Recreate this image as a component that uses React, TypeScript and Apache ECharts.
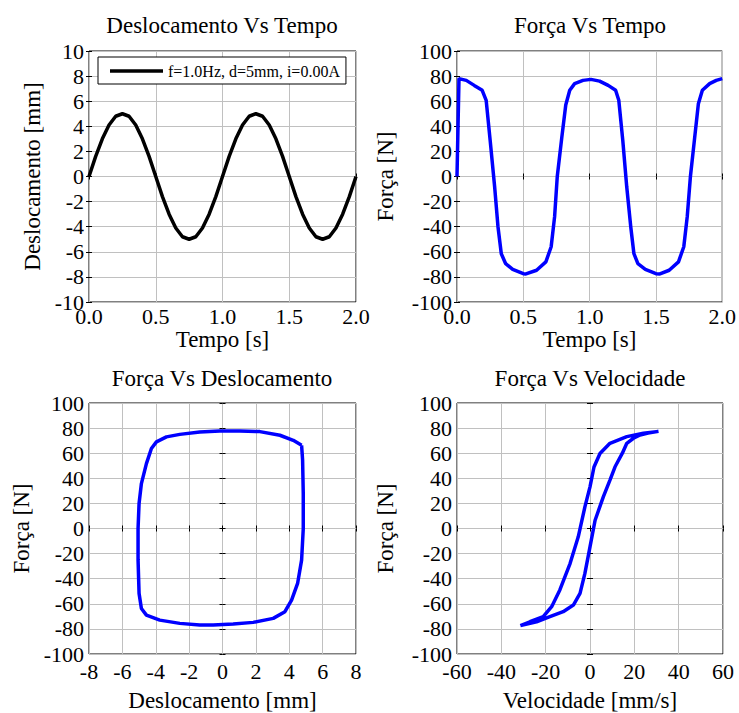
import React, { useEffect, useRef } from "react";
import * as echarts from "echarts";

const FONT = "Liberation Serif";

// ---- tick definitions ----
const timeTicks = [0, 0.5, 1.0, 1.5, 2.0];
const dispTicks = [-10, -8, -6, -4, -2, 0, 2, 4, 6, 8, 10];
const forceTicks = [-100, -80, -60, -40, -20, 0, 20, 40, 60, 80, 100];
const dispLoopTicks = [-8, -6, -4, -2, 0, 2, 4, 6, 8];
const velTicks = [-60, -40, -20, 0, 20, 40, 60];

// ---- titles / labels ----
const titles = [
  "Deslocamento Vs Tempo",
  "Força Vs Tempo",
  "Força Vs Deslocamento",
  "Força Vs Velocidade",
];
const legendLabel = "f=1.0Hz, d=5mm, i=0.00A";

// ---- plot 1: displacement vs time ----
const time1 = [
  0, 0.05, 0.1, 0.15, 0.2, 0.25, 0.3, 0.35, 0.4, 0.45, 0.5, 0.55, 0.6, 0.65,
  0.7, 0.75, 0.8, 0.85, 0.9, 0.95, 1.0, 1.05, 1.1, 1.15, 1.2, 1.25, 1.3, 1.35,
  1.4, 1.45, 1.5, 1.55, 1.6, 1.65, 1.7, 1.75, 1.8, 1.85, 1.9, 1.95, 2.0,
];
const disp1 = [
  0, 1.6, 3.0, 4.1, 4.8, 5.0, 4.8, 4.1, 3.0, 1.6, 0, -1.6, -3.0, -4.1, -4.8,
  -5.0, -4.8, -4.1, -3.0, -1.6, 0, 1.6, 3.0, 4.1, 4.8, 5.0, 4.8, 4.1, 3.0, 1.6,
  0, -1.6, -3.0, -4.1, -4.8, -5.0, -4.8, -4.1, -3.0, -1.6, 0,
];

// ---- plot 2: force vs time ----
const time2 = [
  0, 0.015, 0.07, 0.13, 0.19, 0.22, 0.25, 0.284, 0.309, 0.334, 0.367, 0.42,
  0.5, 0.52, 0.6, 0.67, 0.71, 0.736, 0.756, 0.79, 0.82, 0.85, 0.887, 0.95,
  1.01, 1.075, 1.14, 1.196, 1.22, 1.25, 1.28, 1.31, 1.334, 1.364, 1.42, 1.5,
  1.53, 1.6, 1.67, 1.71, 1.736, 1.76, 1.79, 1.82, 1.85, 1.905, 1.955, 2.0,
];
const force2 = [
  0, 78, 76.6, 72.6, 68.7, 60.7, 28.8, -8.4, -40, -61.5, -69.5, -74, -77.4,
  -77.6, -74.7, -68, -56, -32, 0, 31, 57, 68.7, 74, 76.6, 77.4, 76, 72.6, 68.7,
  60.7, 28.8, -8.4, -40, -61.5, -69.5, -74, -77.4, -77.6, -74.7, -68, -56, -32,
  0, 29, 58, 68.7, 74, 76.6, 78,
];

// ---- plot 3: force vs displacement loop ----
const loopDisp = [
  4.74, 4.24, 3.44, 2.24, 1.04, -0.16, -1.36, -2.56, -3.36, -3.96, -4.26,
  -4.56, -4.86, -5.0, -5.06, -5.06, -5.0, -4.86, -4.56, -3.76, -2.56, -1.36,
  -0.56, 0.64, 1.84, 3.04, 3.74, 4.14, 4.5, 4.74, 4.84, 4.84, 4.8, 4.74,
];
const loopForceD = [
  66.3, 70.3, 74.3, 77.2, 77.7, 77.7, 76.9, 75, 73, 69, 63.7, 51.7, 35.8, 19.9,
  0, -25, -51.7, -63.7, -69, -73, -75.6, -76.9, -76.9, -76.1, -74.8, -71.6,
  -66.3, -57, -43.8, -25.2, 0, 27.9, 54.4, 66.3,
];

// ---- plot 4: force vs velocity loop ----
const loopVel = [
  -31.4, -27.1, -21.1, -17.3, -13.6, -9.0, -5.3, -2.3, 0, 1.8, 4.5, 9.0, 16.6,
  24.1, 30.9, 26.2, 22.6, 19.6, 16.6, 14.6, 11.3, 9.0, 6.0, 2.3, 0, -2.3, -4.5,
  -7.5, -12.1, -18.1, -24.1, -31.4,
];
const loopForceV = [
  -77.4, -74.3, -70.3, -62.3, -49, -27.9, -6.6, 17.2, 33.2, 49, 59.7, 67.9,
  73.2, 75.9, 77.4, 76, 74.5, 71.9, 67.9, 60, 49.2, 38.6, 25.2, 6.6, -14.6,
  -35.8, -51.7, -61, -66.3, -70.3, -74.3, -77.4,
];

const zip = (a: number[], b: number[]) => a.map((v, i) => [v, b[i]]);

const grids = [
  { left: 89, top: 51, width: 267, height: 251 },
  { left: 457, top: 51, width: 266, height: 251 },
  { left: 89, top: 403, width: 267, height: 251 },
  { left: 457, top: 403, width: 266, height: 251 },
];

const xDefs = [
  { ticks: timeTicks, name: "Tempo [s]", margin: 3, gap: 24, fmt: (v: number) => v.toFixed(1) },
  { ticks: timeTicks, name: "Tempo [s]", margin: 3, gap: 24, fmt: (v: number) => v.toFixed(1) },
  { ticks: dispLoopTicks, name: "Deslocamento [mm]", margin: 6, gap: 35, fmt: (v: number) => String(v) },
  { ticks: velTicks, name: "Velocidade [mm/s]", margin: 6, gap: 35, fmt: (v: number) => String(v) },
];
const yDefs = [
  { ticks: dispTicks, name: "Deslocamento [mm]", gap: 45 },
  { ticks: forceTicks, name: "Força [N]", gap: 60 },
  { ticks: forceTicks, name: "Força [N]", gap: 56 },
  { ticks: forceTicks, name: "Força [N]", gap: 60 },
];

function App() {
  const ref = useRef<HTMLDivElement>(null);
  useEffect(() => {
    if (!ref.current) return;
    const chart = echarts.init(ref.current, null, { renderer: "svg" });
    const textBase = { fontFamily: FONT, color: "#000" };

    const xAxes: any[] = [];
    const yAxes: any[] = [];
    xDefs.forEach((d, i) => {
      const t = d.ticks;
      xAxes.push({
        type: "value",
        gridIndex: i,
        position: "bottom",
        min: t[0],
        max: t[t.length - 1],
        interval: t[1] - t[0],
        name: d.name,
        nameLocation: "middle",
        nameGap: d.gap,
        nameTextStyle: { fontFamily: FONT, color: "#000", fontSize: 23 },
        axisLine: { show: false },
        axisTick: { show: true, inside: true, length: 3, lineStyle: { color: "#000" } },
        axisLabel: {
          fontFamily: FONT,
          color: "#000",
          fontSize: 22,
          margin: d.margin,
          formatter: d.fmt,
          hideOverlap: false,
        },
        splitLine: { show: true, lineStyle: { color: "#c0c0c0", width: 1 } },
      });
    });
    yDefs.forEach((d, i) => {
      const t = d.ticks;
      yAxes.push({
        type: "value",
        gridIndex: i,
        position: "left",
        min: t[0],
        max: t[t.length - 1],
        interval: t[1] - t[0],
        name: d.name,
        nameLocation: "middle",
        nameGap: d.gap,
        nameRotate: 90,
        nameTextStyle: { fontFamily: FONT, color: "#000", fontSize: 23 },
        axisLine: { show: false },
        axisTick: { show: true, inside: true, length: 3, lineStyle: { color: "#000" } },
        axisLabel: {
          fontFamily: FONT,
          color: "#000",
          fontSize: 22,
          margin: 5,
          formatter: (v: number) => String(v),
          hideOverlap: false,
        },
        splitLine: { show: true, lineStyle: { color: "#c0c0c0", width: 1 } },
      });
    });
    // mirrored tick axes on top/right
    xDefs.forEach((d, i) => {
      const t = d.ticks;
      xAxes.push({
        type: "value",
        gridIndex: i,
        position: "top",
        min: t[0],
        max: t[t.length - 1],
        interval: t[1] - t[0],
        axisLine: { show: false },
        axisTick: { show: true, inside: true, length: 3, lineStyle: { color: "#000" } },
        axisLabel: { show: false },
        splitLine: { show: false },
      });
    });
    yDefs.forEach((d, i) => {
      const t = d.ticks;
      yAxes.push({
        type: "value",
        gridIndex: i,
        position: "right",
        min: t[0],
        max: t[t.length - 1],
        interval: t[1] - t[0],
        axisLine: { show: false },
        axisTick: { show: true, inside: true, length: 3, lineStyle: { color: "#000" } },
        axisLabel: { show: false },
        splitLine: { show: false },
      });
    });

    const lineCommon = {
      type: "line",
      symbol: "none",
      showSymbol: false,
      smooth: false,
      z: 5,
    };

    const titleCenters = [
      { x: 222, top: 14 },
      { x: 590, top: 14 },
      { x: 222, top: 367 },
      { x: 590, top: 367 },
    ];

    chart.setOption({
      animation: false,
      backgroundColor: "#fff",
      textStyle: { fontFamily: FONT, color: "#000" },
      title: titles.map((txt, i) => ({
        text: txt,
        left: titleCenters[i].x,
        top: titleCenters[i].top,
        textAlign: "center",
        padding: 0,
        textStyle: { ...textBase, fontSize: 23, fontWeight: "normal" },
      })),
      legend: {
        data: [legendLabel],
        left: 98,
        top: 57,
        padding: [6, 6, 5, 12],
        icon: "rect",
        itemWidth: 53,
        itemHeight: 3.5,
        backgroundColor: "#fff",
        borderColor: "#000",
        borderWidth: 1,
        borderRadius: 0,
        textStyle: { ...textBase, fontSize: 16 },
        selectedMode: false,
        z: 10,
      },
      grid: grids.map((g) => ({
        ...g,
        show: true,
        borderColor: "#000",
        borderWidth: 1,
        backgroundColor: "transparent",
        containLabel: false,
      })),
      xAxis: xAxes,
      yAxis: yAxes,
      series: [
        {
          ...lineCommon,
          name: legendLabel,
          xAxisIndex: 0,
          yAxisIndex: 0,
          data: zip(time1, disp1),
          lineStyle: { color: "#000", width: 3.5 },
          itemStyle: { color: "#000" },
        },
        {
          ...lineCommon,
          name: "Força",
          xAxisIndex: 1,
          yAxisIndex: 1,
          data: zip(time2, force2),
          lineStyle: { color: "#0000ff", width: 3.5 },
          itemStyle: { color: "#0000ff" },
        },
        {
          ...lineCommon,
          name: "Força x Deslocamento",
          xAxisIndex: 2,
          yAxisIndex: 2,
          data: zip(loopDisp, loopForceD),
          lineStyle: { color: "#0000ff", width: 3.5 },
          itemStyle: { color: "#0000ff" },
        },
        {
          ...lineCommon,
          name: "Força x Velocidade",
          xAxisIndex: 3,
          yAxisIndex: 3,
          data: zip(loopVel, loopForceV),
          lineStyle: { color: "#0000ff", width: 3.5 },
          itemStyle: { color: "#0000ff" },
        },
      ],
    });
    return () => chart.dispose();
  }, []);

  return (
    <div
      ref={ref}
      style={{ position: "absolute", left: 0, top: 0, width: 739, height: 713, background: "#fff" }}
    />
  );
}

export default App;
